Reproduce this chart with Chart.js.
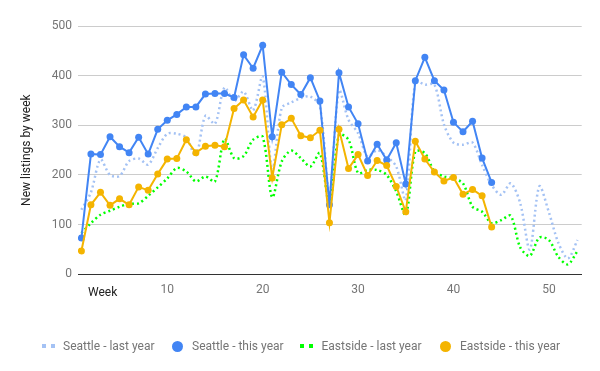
<!DOCTYPE html>
<html>
<head>
<meta charset="utf-8">
<script src="https://cdn.jsdelivr.net/npm/chart.js@4/dist/chart.umd.min.js"></script>
<style>
  html, body { margin: 0; padding: 0; background: #fff; }
  #wrap { position: relative; width: 600px; height: 371px; font-family: Roboto, "Noto Sans", sans-serif; }
  #c { position: absolute; left: 0; top: 0; }
  .lg { position: absolute; font-size: 12px; color: #757575; line-height: 14px; white-space: nowrap; }
  .sq { position: absolute; width: 4px; height: 4px; }
  .dot { position: absolute; width: 11px; height: 11px; border-radius: 50%; }
</style>
</head>
<body>
<div id="wrap">
  <canvas id="c" width="600" height="371"></canvas>
  <div id="legend"></div>
</div>
<script>
const weeks = Array.from({length: 53}, (_, i) => i + 1);
const seriesNames = ["Seattle - last year", "Seattle - this year", "Eastside - last year", "Eastside - this year"];
const seattleLastYear = [130,165,231,200,198,228,233,221,254,283,
  283,275,238,319,303,376,349,368,330,398,
  210,335,346,355,358,338,160,370,311,284,
  237,250,237,217,150,388,382,382,302,265,
  261,265,220,180,160,183,143,50,177,125,
  63,32,69];
const seattleThisYear = [73,242,241,277,257,245,276,242,292,310,
  322,337,337,363,364,364,356,442,415,461,
  277,407,382,362,396,349,140,406,337,303,
  228,262,230,265,182,390,437,390,371,306,
  287,308,234,185];
const eastsideLastYear = [83,103,120,128,136,142,143,158,175,193,
  214,207,187,197,187,273,234,238,271,277,
  155,227,249,234,217,244,140,281,271,204,
  210,210,200,167,120,247,244,207,197,193,
  183,136,126,103,109,118,54,37,74,69,
  35,20,47];
const eastsideThisYear = [47,140,165,139,152,140,176,169,202,232,
  233,271,245,258,260,257,334,351,317,351,
  194,301,314,279,275,290,104,292,213,241,
  199,229,219,177,126,268,232,206,188,195,
  161,171,158,95];
const xTickValues = [10, 20, 30, 40, 50];
const yTickValues = [0, 100, 200, 300, 400, 500];
const xAxisTitle = "Week";
const yAxisTitle = "New listings by week";

const colors = ["#a4c2f4", "#4285f4", "#00ff00", "#f4b400"];
const toPts = arr => arr.map((v, i) => ({x: weeks[i], y: v}));

const weekLabel = {
  id: 'weekLabel',
  afterDraw(chart) {
    const ctx = chart.ctx;
    ctx.save();
    ctx.font = '12px Roboto';
    ctx.fillStyle = '#222';
    ctx.textAlign = 'left';
    ctx.textBaseline = 'middle';
    ctx.fillText(xAxisTitle, chart.chartArea.left + 10, 293);
    ctx.restore();
  }
};

const font = {family: 'Roboto', size: 12};
new Chart(document.getElementById('c'), {
  type: 'line',
  data: {
    datasets: [
      {label: seriesNames[0], data: toPts(seattleLastYear), borderColor: colors[0], backgroundColor: colors[0],
       borderWidth: 2.5, borderDash: [2, 3], pointRadius: 0, tension: 0.3, order: 3},
      {label: seriesNames[1], data: toPts(seattleThisYear), borderColor: colors[1], backgroundColor: colors[1],
       borderWidth: 2, pointRadius: 3.5, pointBorderWidth: 0, tension: 0, order: 1},
      {label: seriesNames[2], data: toPts(eastsideLastYear), borderColor: colors[2], backgroundColor: colors[2],
       borderWidth: 2.5, borderDash: [2, 3], pointRadius: 0, tension: 0.3, order: 2},
      {label: seriesNames[3], data: toPts(eastsideThisYear), borderColor: colors[3], backgroundColor: colors[3],
       borderWidth: 2, pointRadius: 3.5, pointBorderWidth: 0, tension: 0, order: 0}
    ]
  },
  options: {
    responsive: false,
    animation: false,
    devicePixelRatio: 1,
    layout: {padding: {left: 0, right: 18.3, top: 26, bottom: 56.7}},
    plugins: {legend: {display: false}, tooltip: {enabled: false}},
    scales: {
      x: {
        type: 'linear', min: 0.644, max: 53.44,
        afterBuildTicks: s => { s.ticks = xTickValues.map(v => ({value: v})); },
        afterFit: s => { s.height = 40; },
        grid: {display: false},
        border: {display: true, color: '#333', width: 1},
        ticks: {color: '#757575', font, padding: 0, maxRotation: 0, autoSkip: false}
      },
      y: {
        min: 0, max: 500,
        afterBuildTicks: s => { s.ticks = yTickValues.map(v => ({value: v})); },
        afterFit: s => { s.width = 78; },
        grid: {color: '#cccccc', drawTicks: false, lineWidth: 1},
        border: {display: false},
        ticks: {color: '#757575', font, padding: 6},
        title: {display: true, text: yAxisTitle, color: '#222', font, padding: {top: 20, bottom: 0}}
      }
    }
  },
  plugins: [weekLabel]
});

// HTML legend
const legend = document.getElementById('legend');
const items = [
  {type: 'dash', mx: 42, tx: 63},
  {type: 'dot', mx: 177, tx: 192},
  {type: 'dash', mx: 300, tx: 321.5},
  {type: 'dot', mx: 445, tx: 460}
];
items.forEach((it, i) => {
  if (it.type === 'dash') {
    [0, 9].forEach(off => {
      const s = document.createElement('div');
      s.className = 'sq';
      s.style.left = (it.mx + off) + 'px';
      s.style.top = '344px';
      s.style.background = colors[i];
      legend.appendChild(s);
    });
  } else {
    const d = document.createElement('div');
    d.className = 'dot';
    d.style.left = (it.mx - 5.5) + 'px';
    d.style.top = '340.5px';
    d.style.background = colors[i];
    legend.appendChild(d);
  }
  const t = document.createElement('div');
  t.className = 'lg';
  t.style.left = it.tx + 'px';
  t.style.top = '339px';
  t.textContent = seriesNames[i];
  legend.appendChild(t);
});
</script>
</body>
</html>
